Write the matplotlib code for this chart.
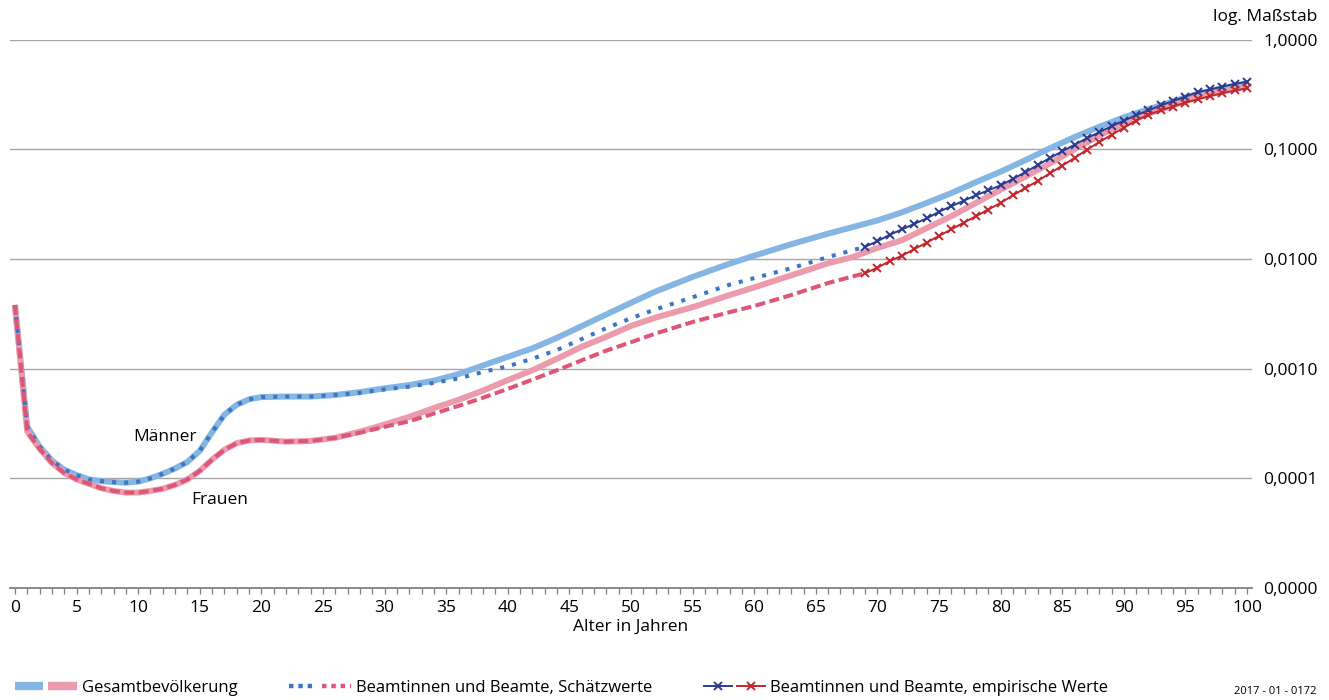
import matplotlib
matplotlib.use("Agg")
import matplotlib.pyplot as plt
from matplotlib.lines import Line2D
from matplotlib.legend_handler import HandlerTuple
from matplotlib.ticker import MultipleLocator, FixedLocator, FixedFormatter

plt.rcParams['font.family'] = ['Open Sans', 'DejaVu Sans']

age_total = list(range(0, 21)) + list(range(22, 53, 2)) + [55, 58, 60, 63, 66, 68, 70] + list(range(72, 101, 2))
age_est = list(range(0, 21)) + list(range(22, 53, 2)) + [55, 58, 60, 63, 66, 69]
age_emp = list(range(69, 101))

# Gesamtbevoelkerung
men_total = [0.00380, 0.000295, 0.000195, 0.000145, 0.000120, 0.000107, 0.0000977, 0.0000944, 0.0000923,
             0.0000912, 0.0000933, 0.000100, 0.000110, 0.000123, 0.000141, 0.000178, 0.000263, 0.000380,
             0.000468, 0.000525, 0.000550,
             0.000556, 0.000556, 0.000575, 0.000610, 0.000661, 0.000708, 0.000776, 0.000891, 0.00107,
             0.00128, 0.00153, 0.00191, 0.00244, 0.00312, 0.00398, 0.00505,
             0.00685, 0.00905, 0.0107, 0.0136, 0.0170, 0.0195, 0.0224,
             0.0266, 0.0324, 0.0398, 0.0501, 0.0624, 0.0794, 0.102, 0.129, 0.160, 0.195, 0.232, 0.272,
             0.320, 0.359, 0.398]
women_total = [0.00380, 0.000266, 0.000186, 0.000138, 0.000112, 0.0000977, 0.0000891, 0.0000813, 0.0000767,
               0.0000741, 0.0000741, 0.0000767, 0.0000804, 0.0000871, 0.0000977, 0.000117, 0.000148, 0.000182,
               0.000209, 0.000221, 0.000224,
               0.000216, 0.000219, 0.000234, 0.000266, 0.000309, 0.000363, 0.000437, 0.000519, 0.000631,
               0.000785, 0.000966, 0.00123, 0.00158, 0.00195, 0.00245, 0.00292,
               0.00363, 0.00468, 0.00550, 0.00708, 0.00912, 0.0104, 0.0126,
               0.0148, 0.0191, 0.0245, 0.0324, 0.0427, 0.0562, 0.0741, 0.100, 0.133, 0.172, 0.211, 0.251,
               0.299, 0.335, 0.372]

# Beamte, Schaetzwerte
men_est = [0.00380, 0.000295, 0.000195, 0.000145, 0.000120, 0.000107, 0.0000977, 0.0000944, 0.0000923,
           0.0000912, 0.0000933, 0.000100, 0.000110, 0.000123, 0.000141, 0.000178, 0.000263, 0.000380,
           0.000468, 0.000525, 0.000550,
           0.000556, 0.000556, 0.000575, 0.000603, 0.000646, 0.000684, 0.000741, 0.000813, 0.000933,
           0.00105, 0.00123, 0.00148, 0.00186, 0.00234, 0.00288, 0.00347,
           0.00447, 0.00582, 0.00668, 0.00822, 0.0104, 0.0129]
women_est = [0.00380, 0.000266, 0.000186, 0.000138, 0.000112, 0.0000977, 0.0000891, 0.0000813, 0.0000767,
             0.0000741, 0.0000741, 0.0000767, 0.0000804, 0.0000871, 0.0000977, 0.000117, 0.000148, 0.000182,
             0.000209, 0.000221, 0.000224,
             0.000216, 0.000219, 0.000234, 0.000260, 0.000295, 0.000331, 0.000389, 0.000457, 0.000543,
             0.000653, 0.000794, 0.000966, 0.00119, 0.00146, 0.00174, 0.00209,
             0.00266, 0.00327, 0.00372, 0.00468, 0.00603, 0.00741]

# Beamte, empirische Werte
men_emp = [0.0129, 0.0145, 0.0166, 0.0186, 0.0209, 0.0234, 0.0269, 0.0302, 0.0339, 0.0380, 0.0422,
           0.0468, 0.0537, 0.0617, 0.0716, 0.0832, 0.0955, 0.110, 0.126, 0.143, 0.162, 0.182, 0.204,
           0.226, 0.251, 0.275, 0.302, 0.331, 0.351, 0.372, 0.394, 0.412]
women_emp = [0.00741, 0.00832, 0.00955, 0.0107, 0.0123, 0.0141, 0.0162, 0.0186, 0.0214, 0.0245, 0.0282,
             0.0324, 0.0380, 0.0442, 0.0513, 0.0603, 0.0708, 0.0832, 0.0989, 0.116, 0.135, 0.157, 0.182,
             0.207, 0.226, 0.245, 0.266, 0.285, 0.305, 0.324, 0.343, 0.359]

ytick_vals = [0.00001, 0.0001, 0.001, 0.01, 0.1, 1.0]
ytick_labels = ["0,0000", "0,0001", "0,0010", "0,0100", "0,1000", "1,0000"]

c_lblue = "#84B5E3"
c_pink = "#EB9BAB"
c_blue = "#3C76C3"
c_red = "#DD5677"
c_dblue = "#2C3B92"
c_dred = "#C1272D"

FS = 12.5

fig = plt.figure(figsize=(13.29, 7.0), dpi=100)
ax = fig.add_axes([10 / 1329, 112 / 700, 1242 / 1329, 548.5 / 700])
ax.set_yscale("log")
ax.set_xlim(-0.4, 100.4)
ax.set_ylim(1e-5, 1.0)

ax.plot(age_total, men_total, color=c_lblue, lw=4.3, solid_capstyle="butt", solid_joinstyle="round", zorder=2)
ax.plot(age_total, women_total, color=c_pink, lw=4.3, solid_capstyle="butt", solid_joinstyle="round", zorder=2)
ax.plot(age_est, men_est, color=c_blue, lw=2.9, linestyle=(0, (1, 2)), dash_capstyle="butt", zorder=3)
ax.plot(age_est, women_est, color=c_red, lw=2.9, linestyle=(0, (2.5, 1.1)), dash_capstyle="butt", zorder=3)
ax.plot(age_emp, men_emp, color=c_dblue, lw=1.4, marker="x", ms=5.5, mew=1.4, zorder=4)
ax.plot(age_emp, women_emp, color=c_dred, lw=1.4, marker="x", ms=5.5, mew=1.4, zorder=4)

ax.text(9.6, 0.00024, "Männer", fontsize=FS, va="center", ha="left")
ax.text(14.3, 0.000063, "Frauen", fontsize=FS, va="center", ha="left")

# axes styling
for s in ["top", "left", "right"]:
    ax.spines[s].set_visible(False)
ax.spines["bottom"].set_color("#7F7F7F")
ax.spines["bottom"].set_linewidth(1.3)

ax.xaxis.set_major_locator(MultipleLocator(5))
ax.xaxis.set_minor_locator(MultipleLocator(1))
ax.tick_params(axis="x", which="both", direction="out", length=4.5, width=0.9, color="#7F7F7F",
               labelsize=FS, pad=4)
ax.set_xlabel("Alter in Jahren", fontsize=FS, labelpad=2)

ax.yaxis.tick_right()
ax.yaxis.set_major_locator(FixedLocator(ytick_vals))
ax.yaxis.set_major_formatter(FixedFormatter(ytick_labels))
ax.yaxis.set_minor_locator(FixedLocator([]))
ax.tick_params(axis="y", which="both", length=0, labelsize=FS, pad=8)
for v in ytick_vals[1:]:
    ax.axhline(v, color="#A6A6A6", lw=1.0, zorder=1)

fig.text(1317 / 1329, 1 - 17 / 700, "log. Maßstab", ha="right", va="center", fontsize=FS)

# legend
h_tot = (Line2D([], [], color=c_lblue, lw=6, solid_capstyle="butt"),
         Line2D([], [], color=c_pink, lw=6, solid_capstyle="butt"))
h_est = (Line2D([], [], color=c_blue, lw=3.2, linestyle=(0, (1, 1.1)), dash_capstyle="butt"),
         Line2D([], [], color=c_red, lw=3.2, linestyle=(0, (1, 1.1)), dash_capstyle="butt"))
h_emp = (Line2D([], [], color=c_dblue, lw=1.4, marker="x", ms=5.5, mew=1.4),
         Line2D([], [], color=c_dred, lw=1.4, marker="x", ms=5.5, mew=1.4))
fig.legend([h_tot, h_est, h_emp],
           ["Gesamtbevölkerung", "Beamtinnen und Beamte, Schätzwerte", "Beamtinnen und Beamte, empirische Werte"],
           handler_map={tuple: HandlerTuple(ndivide=None, pad=0.3)},
           loc="center left", bbox_to_anchor=(15 / 1329, 12 / 700), ncol=3, frameon=False,
           fontsize=12, handlelength=3.7, handletextpad=0.3, columnspacing=3.1,
           borderpad=0, borderaxespad=0)

fig.text(1316 / 1329, 1 - 691 / 700, "2017 - 01 - 0172", ha="right", va="center", fontsize=8)

fig.savefig("out.png", dpi=100)
